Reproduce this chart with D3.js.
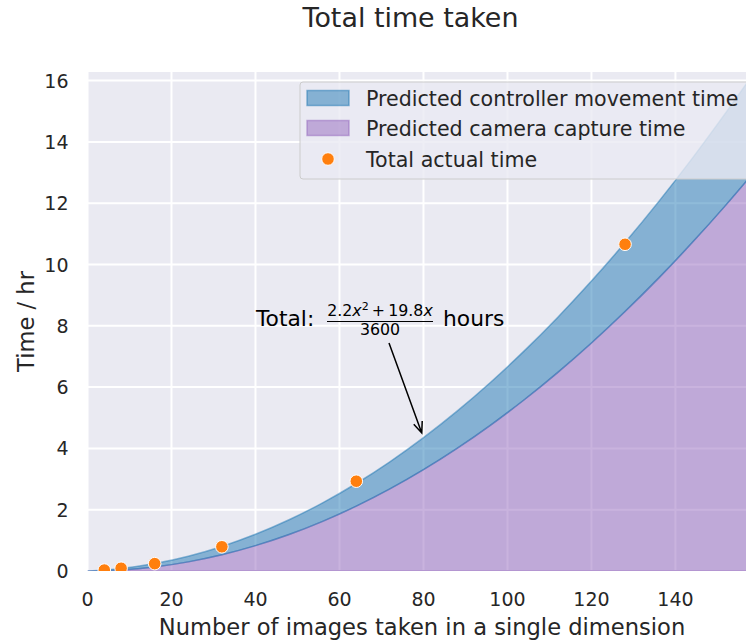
<!DOCTYPE html>
<html>
<head>
<meta charset="utf-8">
<script src="https://cdn.jsdelivr.net/npm/d3@7"></script>
<style>
	body { margin: 0; background: #fff; }
	text { font-family: "DejaVu Sans", sans-serif; }
</style>
</head>
<body>
<div id="chart"></div>
<script>
// curve samples (hours)
const sampleX = [0, 8, 16, 24, 32, 40, 48, 56, 64, 72, 80, 88, 96, 104, 112, 120, 128, 136, 144, 152, 157]
const totalTime = [0, 0.083, 0.244, 0.484, 0.802, 1.198, 1.672, 2.224, 2.855, 3.564, 4.351, 5.216, 6.16, 7.182, 8.282, 9.46, 10.716, 12.051, 13.464, 14.955, 15.92]
const cameraTime = [0, 0.033, 0.132, 0.298, 0.529, 0.827, 1.19, 1.62, 2.116, 2.678, 3.307, 4.001, 4.762, 5.588, 6.481, 7.44, 8.465, 9.556, 10.714, 11.937, 12.735]

const actualX = [4, 8, 16, 32, 64, 128]
const actualTime = [0.03, 0.09, 0.24, 0.79, 2.93, 10.66]

const xTicks = [0, 20, 40, 60, 80, 100, 120, 140]
const yTicks = [0, 2, 4, 6, 8, 10, 12, 14, 16]

const legendLabels = ["Predicted controller movement time", "Predicted camera capture time", "Total actual time"]

const width = 746
const height = 644
const plotLeft = 87.5
const plotTop = 72
const plotBottom = 571
const textColor = "#262626"
const blue = "#1f77b4"
const purple = "#9467bd"
const orange = "#ff7f0e"

const x = d3.scaleLinear().domain([0, 156.8]).range([plotLeft, width])
const y = d3.scaleLinear().domain([0, 16.3]).range([plotBottom, plotBottom - 16.3 * 30.65])

const svg = d3.select("#chart").append("svg").attr("width", width).attr("height", height)

svg.append("defs").append("clipPath").attr("id", "plot-clip")
	.append("rect")
	.attr("x", plotLeft).attr("y", plotTop)
	.attr("width", width - plotLeft + 20).attr("height", plotBottom - plotTop)

svg.append("rect")
	.attr("x", plotLeft).attr("y", plotTop)
	.attr("width", width - plotLeft + 20).attr("height", plotBottom - plotTop)
	.attr("fill", "#eaeaf2")

// grid
svg.append("g").selectAll("line").data(xTicks).join("line")
	.attr("x1", d => x(d)).attr("x2", d => x(d))
	.attr("y1", plotTop).attr("y2", plotBottom)
	.attr("stroke", "#fff").attr("stroke-width", 2)
svg.append("g").selectAll("line").data(yTicks).join("line")
	.attr("x1", plotLeft).attr("x2", width + 20)
	.attr("y1", d => y(d)).attr("y2", d => y(d))
	.attr("stroke", "#fff").attr("stroke-width", 2)

const samples = sampleX.map((v, i) => ({ x: v, total: totalTime[i], camera: cameraTime[i] }))
const plot = svg.append("g").attr("clip-path", "url(#plot-clip)")

const cameraArea = d3.area().curve(d3.curveMonotoneX)
	.x(d => x(d.x)).y0(y(0)).y1(d => y(d.camera))
const controllerArea = d3.area().curve(d3.curveMonotoneX)
	.x(d => x(d.x)).y0(d => y(d.camera)).y1(d => y(d.total))

plot.append("path").datum(samples)
	.attr("d", cameraArea)
	.attr("fill", purple).attr("fill-opacity", 0.5)
	.attr("stroke", purple).attr("stroke-opacity", 0.5).attr("stroke-width", 1.5)
plot.append("path").datum(samples)
	.attr("d", controllerArea)
	.attr("fill", blue).attr("fill-opacity", 0.5)
	.attr("stroke", blue).attr("stroke-opacity", 0.5).attr("stroke-width", 1.5)

plot.append("g").selectAll("circle").data(actualX).join("circle")
	.attr("cx", d => x(d))
	.attr("cy", (d, i) => y(actualTime[i]))
	.attr("r", 6.3)
	.attr("fill", orange).attr("stroke", "#fff").attr("stroke-width", 1)

// tick labels
svg.append("g").selectAll("text").data(xTicks).join("text")
	.attr("x", d => x(d)).attr("y", 605.5)
	.attr("text-anchor", "middle").attr("font-size", 19).attr("fill", textColor)
	.text(d => d)
svg.append("g").selectAll("text").data(yTicks).join("text")
	.attr("x", 68.5).attr("y", d => y(d) + 7)
	.attr("text-anchor", "end").attr("font-size", 19).attr("fill", textColor)
	.text(d => d)

svg.append("text")
	.attr("x", 422).attr("y", 634.5)
	.attr("text-anchor", "middle").attr("font-size", 22.6).attr("fill", textColor)
	.text("Number of images taken in a single dimension")
svg.append("text")
	.attr("transform", `translate(33.5, ${(plotTop + plotBottom) / 2}) rotate(-90)`)
	.attr("text-anchor", "middle").attr("font-size", 22.6).attr("fill", textColor)
	.text("Time / hr")
svg.append("text")
	.attr("x", 410.5).attr("y", 27)
	.attr("text-anchor", "middle").attr("font-size", 26.9).attr("fill", textColor)
	.text("Total time taken")

// annotation
const ann = svg.append("g").attr("fill", "#000")
ann.append("text").attr("x", 256).attr("y", 326).attr("font-size", 21.8).text("Total:")
ann.append("text").attr("x", 443).attr("y", 326).attr("font-size", 21.8).text("hours")
const num = ann.append("text").attr("x", 380).attr("y", 316).attr("text-anchor", "middle").attr("font-size", 15.8)
num.append("tspan").text("2.2")
num.append("tspan").attr("font-style", "italic").text("x")
num.append("tspan").attr("font-size", 11).attr("dy", -6).text("2")
num.append("tspan").attr("dy", 6).text("\u2009+\u200919.8")
num.append("tspan").attr("font-style", "italic").text("x")
ann.append("text").attr("x", 380).attr("y", 334.5).attr("text-anchor", "middle").attr("font-size", 15.8).text("3600")
ann.append("line")
	.attr("x1", 327).attr("x2", 433).attr("y1", 321.5).attr("y2", 321.5)
	.attr("stroke", "#000").attr("stroke-width", 1.2)

const tail = [389, 343]
const tipData = [80, totalTime[sampleX.indexOf(80)]]
const tipRaw = [x(tipData[0]), y(tipData[1])]
const dx = tipRaw[0] - tail[0]
const dy = tipRaw[1] - tail[1]
const len = Math.hypot(dx, dy)
const ux = dx / len
const uy = dy / len
const tip = [tipRaw[0] - ux * 5, tipRaw[1] - uy * 5]
const headLen = 11
const headW = 4.5
ann.append("path")
	.attr("d", `M${tail[0]},${tail[1]} L${tip[0]},${tip[1]}` +
		` M${tip[0] - ux * headLen - uy * headW},${tip[1] - uy * headLen + ux * headW} L${tip[0]},${tip[1]}` +
		` L${tip[0] - ux * headLen + uy * headW},${tip[1] - uy * headLen - ux * headW}`)
	.attr("fill", "none").attr("stroke", "#000").attr("stroke-width", 1.5)

// legend
const legend = svg.append("g").attr("transform", "translate(300, 82)")
legend.append("rect")
	.attr("width", 470).attr("height", 97).attr("rx", 3)
	.attr("fill", "#eaeaf2").attr("fill-opacity", 0.8)
	.attr("stroke", "#cccccc").attr("stroke-width", 1)
const rowY = [16, 46, 77]
legend.selectAll(".patch").data([blue, purple]).join("rect")
	.attr("class", "patch")
	.attr("x", 7).attr("y", (d, i) => rowY[i] - 7.5)
	.attr("width", 42).attr("height", 15)
	.attr("fill", d => d).attr("fill-opacity", 0.5)
	.attr("stroke", d => d).attr("stroke-opacity", 0.5).attr("stroke-width", 1.5)
legend.append("circle")
	.attr("cx", 28).attr("cy", rowY[2]).attr("r", 6.3)
	.attr("fill", orange).attr("stroke", "#fff").attr("stroke-width", 1)
legend.selectAll(".label").data(legendLabels).join("text")
	.attr("class", "label")
	.attr("x", 66).attr("y", (d, i) => rowY[i] + 7.5)
	.attr("font-size", 20.6).attr("fill", textColor)
	.text(d => d)
</script>
</body>
</html>
